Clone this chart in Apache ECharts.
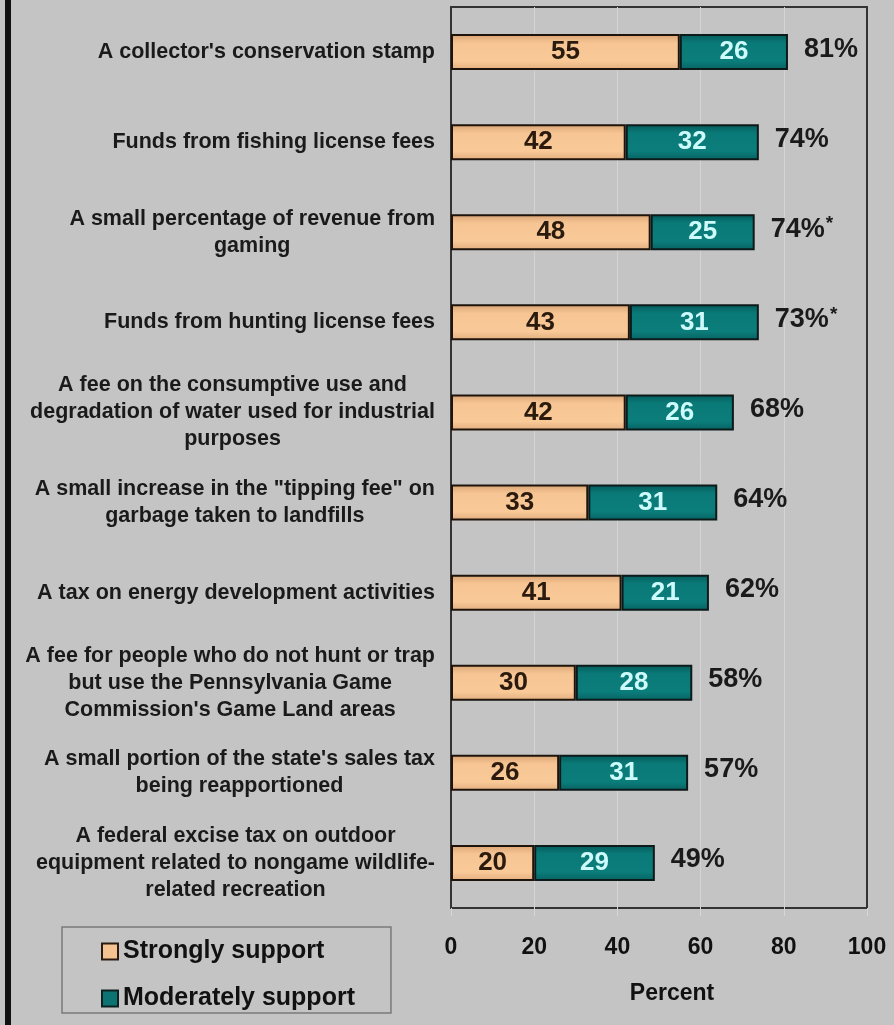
<!DOCTYPE html>
<html>
<head>
<meta charset="utf-8">
<style>
  html, body { margin: 0; padding: 0; background: #c4c4c4; }
  #chart { width: 894px; height: 1025px; }
</style>
<script src="https://cdn.jsdelivr.net/npm/echarts@6/dist/echarts.min.js"></script>
</head>
<body>
<div id="chart"></div>
<script>
// Funding options, top to bottom
const categories = [
  "A collector's conservation stamp",
  "Funds from fishing license fees",
  "A small percentage of revenue from\ngaming",
  "Funds from hunting license fees",
  "A fee on the consumptive use and\ndegradation of water used for industrial\npurposes",
  "A small increase in the \"tipping fee\" on\ngarbage taken to landfills",
  "A tax on energy development activities",
  "A fee for people who do not hunt or trap\nbut use the Pennsylvania Game\nCommission's Game Land areas",
  "A small portion of the state's sales tax\nbeing reapportioned",
  "A federal excise tax on outdoor\nequipment related to nongame wildlife-\nrelated recreation"
];
const stronglySupport   = [55, 42, 48, 43, 42, 33, 41, 30, 26, 20];
const moderatelySupport = [26, 32, 25, 31, 26, 31, 21, 28, 31, 29];
// Combined support as reported (asterisk marks rounded totals)
const totalLabels = ['81%', '74%', '74%*', '73%*', '68%', '64%', '62%', '58%', '57%', '49%'];
const xTicks = [0, 20, 40, 60, 80, 100];

const FONT = 'Liberation Sans, Arial, sans-serif';

const peachFill = new echarts.graphic.LinearGradient(0, 0, 0, 1, [
  { offset: 0, color: '#d9a273' },
  { offset: 0.25, color: '#f6c593' },
  { offset: 0.75, color: '#f9c998' },
  { offset: 1, color: '#e2ad7e' }
]);
const tealFill = new echarts.graphic.LinearGradient(0, 0, 0, 1, [
  { offset: 0, color: '#045a5a' },
  { offset: 0.25, color: '#0a7a78' },
  { offset: 0.75, color: '#0b7d7b' },
  { offset: 1, color: '#066262' }
]);

const chart = echarts.init(document.getElementById('chart'), null, { renderer: 'canvas' });

chart.setOption({
  backgroundColor: '#c4c4c4',
  animation: false,
  graphic: [
    { type: 'rect', left: 5, top: 0, shape: { width: 6, height: 1025 }, style: { fill: '#111' } }
  ],
  legend: {
    orient: 'vertical',
    left: 62,
    top: 927,
    padding: [12, 36, 2, 39],
    itemGap: 22,
    itemWidth: 16,
    itemHeight: 16,
    borderColor: '#7a7a7a',
    borderWidth: 1.5,
    icon: 'rect',
    textStyle: { fontFamily: FONT, fontWeight: 'bold', fontSize: 25, color: '#111' },
    data: [
      { name: 'Strongly support', itemStyle: { color: '#f5c292', borderColor: '#2a1a10', borderWidth: 2 } },
      { name: 'Moderately support', itemStyle: { color: '#0b7473', borderColor: '#0e2020', borderWidth: 2 } }
    ]
  },
  grid: {
    left: 451, right: 27, top: 7, bottom: 117,
    show: true,
    borderColor: '#333',
    borderWidth: 2,
    backgroundColor: 'transparent'
  },
  xAxis: {
    type: 'value',
    min: xTicks[0],
    max: xTicks[xTicks.length - 1],
    interval: 20,
    name: 'Percent',
    nameLocation: 'middle',
    nameGap: 74,
    nameTextStyle: { fontFamily: FONT, fontWeight: 'bold', fontSize: 23, color: '#111', padding: [0, 0, 0, 26] },
    axisLine: { show: false },
    axisTick: { show: true, length: 8, lineStyle: { color: '#d6d6d6', width: 1 } },
    splitLine: { show: true, showMinLine: false, showMaxLine: false, lineStyle: { color: '#d4d4d4', width: 1 } },
    axisLabel: { margin: 28, fontFamily: FONT, fontWeight: 'bold', fontSize: 23, color: '#111' }
  },
  yAxis: {
    type: 'category',
    inverse: true,
    data: categories,
    axisLine: { show: false },
    axisTick: { show: false },
    splitLine: { show: false },
    axisLabel: {
      margin: 16,
      align: 'right',
      formatter: v => '{c|' + v + '}',
      rich: {
        c: { align: 'center', fontFamily: FONT, fontWeight: 'bold', fontSize: 21.5, lineHeight: 27, color: '#1a1a1a' }
      }
    }
  },
  series: [
    {
      name: 'Strongly support',
      type: 'bar',
      stack: 'support',
      barWidth: 36,
      data: stronglySupport,
      itemStyle: { color: peachFill, borderColor: '#1e140c', borderWidth: 2 },
      label: {
        show: true, position: 'inside',
        fontFamily: FONT, fontWeight: 'bold', fontSize: 26, color: '#2b1b0e'
      }
    },
    {
      name: 'Moderately support',
      type: 'bar',
      stack: 'support',
      barWidth: 36,
      data: moderatelySupport,
      itemStyle: { color: tealFill, borderColor: '#0c1a1a', borderWidth: 2 },
      label: {
        show: true, position: 'inside',
        fontFamily: FONT, fontWeight: 'bold', fontSize: 26, color: '#cdfafa'
      }
    },
    {
      // zero-length cap at the end of each stack carrying the combined-support label
      name: 'total',
      type: 'bar',
      stack: 'support',
      barWidth: 36,
      data: categories.map(() => 0),
      itemStyle: { color: 'transparent', borderWidth: 0 },
      label: {
        show: true,
        position: 'right',
        distance: 16,
        offset: [0, -3],
        formatter: p => {
          const t = totalLabels[p.dataIndex];
          return t.endsWith('*') ? '{t|' + t.slice(0, -1) + '}{s|*}' : '{t|' + t + '}';
        },
        rich: {
          t: { fontFamily: FONT, fontWeight: 'bold', fontSize: 27, color: '#1a1a1a' },
          s: { fontFamily: FONT, fontWeight: 'bold', fontSize: 19, color: '#1a1a1a', padding: [0, 0, 10, 1] }
        }
      }
    }
  ]
});
</script>
</body>
</html>
